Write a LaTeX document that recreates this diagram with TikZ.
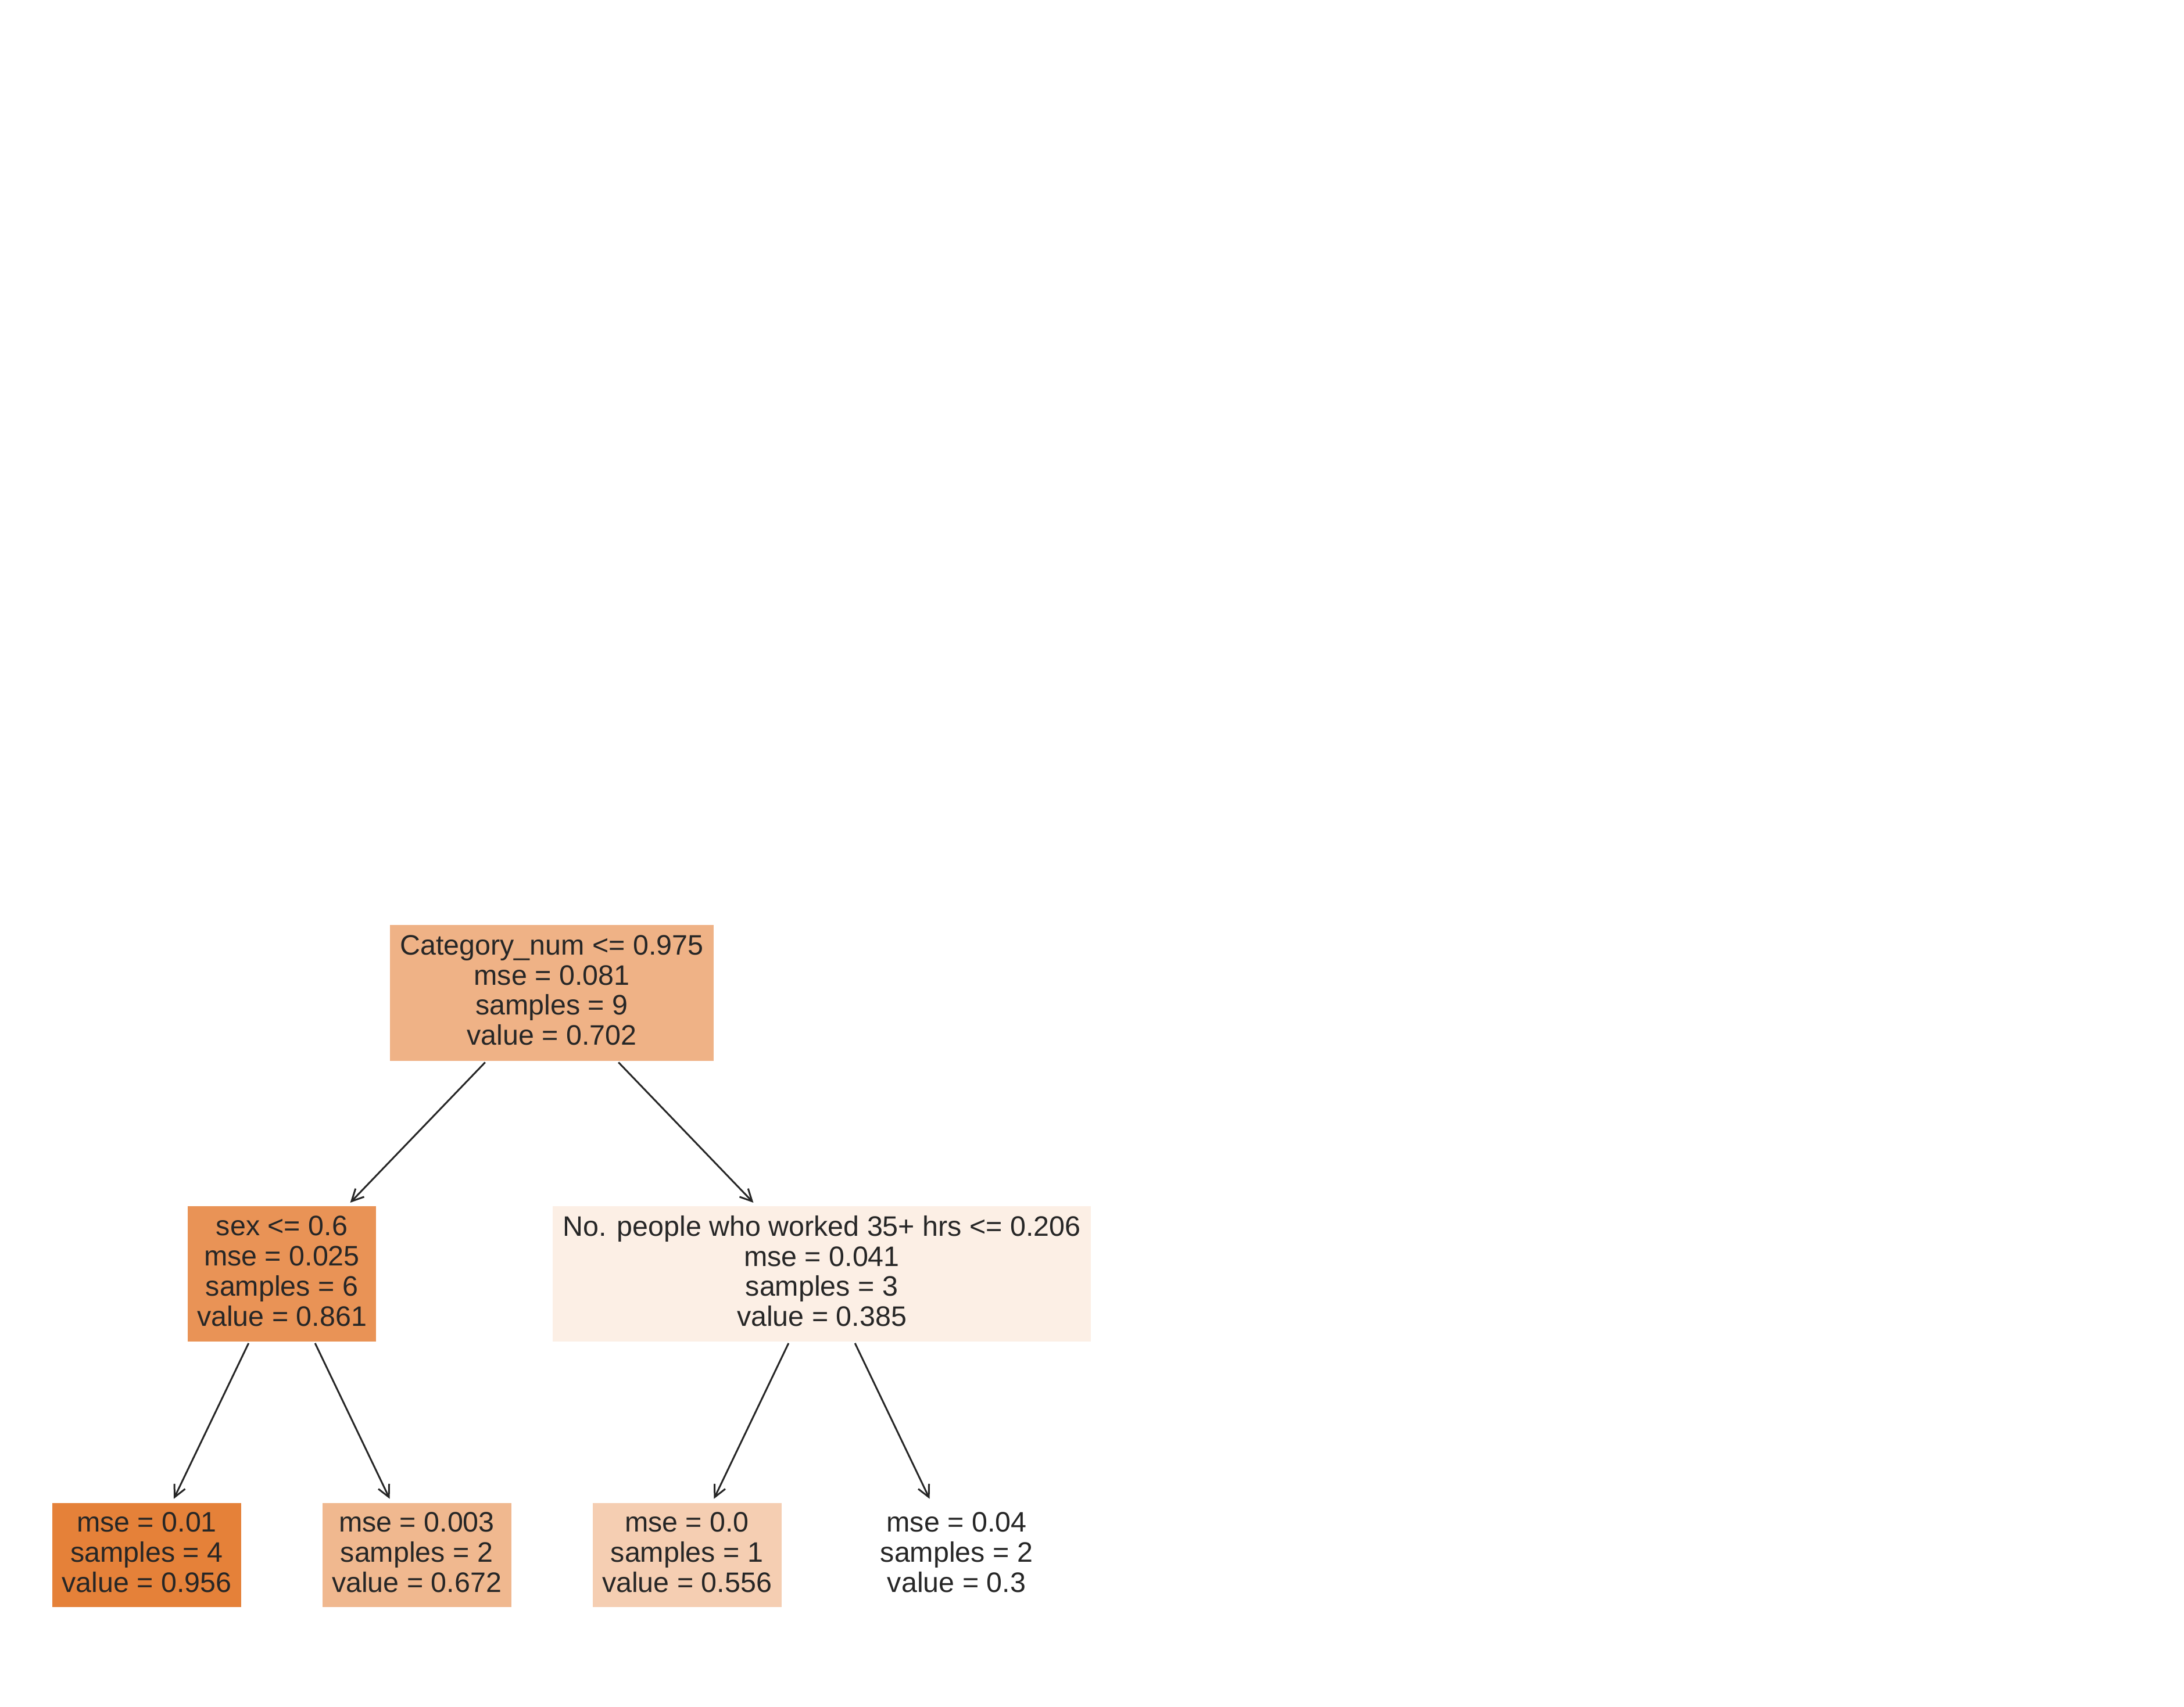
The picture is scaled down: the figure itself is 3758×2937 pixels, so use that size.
\documentclass[tikz,border=0pt]{standalone}
\usepackage{fontspec}
\setmainfont{Liberation Sans}
\usetikzlibrary{arrows.meta}

% fill colours of the regression tree nodes (shade grows with value)
\definecolor{txtgray}{RGB}{38,38,38}
\definecolor{rootfill}{RGB}{239,178,134}
\definecolor{sexfill}{RGB}{233,147,86}
\definecolor{hrsfill}{RGB}{252,239,229}
\definecolor{leafA}{RGB}{229,129,57}
\definecolor{leafB}{RGB}{240,184,143}
\definecolor{leafC}{RGB}{245,206,178}
\definecolor{leafD}{RGB}{255,255,255}

\begin{document}
\begin{tikzpicture}[x=0.2pt,y=-0.2pt,
  treebox/.style={inner sep=0pt, align=center, text=txtgray,
    font=\fontsize{9.68pt}{10.35pt}\selectfont,
    execute at end node={\rule[-2pt]{0pt}{2pt}}},
  splitbox/.style={treebox, minimum height=46.6pt},
  leafbox/.style={treebox, minimum height=35.8pt, minimum width=65pt},
  edge/.style={draw=txtgray, line width=0.6pt,
    -{Straight Barb[length=4.1pt, width=4.1pt, line width=0.6pt]},
    shorten >=1.4pt, shorten <=0.4pt}]

\useasboundingbox (0,0) rectangle (3758,2937);

% split nodes
\node[splitbox, fill=rootfill, minimum width=111.4pt, minimum height=46.8pt] (root) at (949.5,1709)
  {Category\_num <= 0.975\\mse = 0.081\\samples = 9\\value = 0.702};
\node[splitbox, fill=sexfill, minimum width=64.8pt] (sex) at (485,2192.5)
  {sex <= 0.6\\mse = 0.025\\samples = 6\\value = 0.861};
\node[splitbox, fill=hrsfill, minimum width=185.2pt] (hrs) at (1414,2192.5)
  {No. people who worked 35+ hrs <= 0.206\\mse = 0.041\\samples = 3\\value = 0.385};

% leaves
\node[leafbox, fill=leafA] (la) at (252.5,2676.5)
  {mse = 0.01\\samples = 4\\value = 0.956};
\node[leafbox, fill=leafB] (lb) at (717,2676.5)
  {mse = 0.003\\samples = 2\\value = 0.672};
\node[leafbox, fill=leafC] (lc) at (1182,2676.5)
  {mse = 0.0\\samples = 1\\value = 0.556};
\node[leafbox, fill=leafD, minimum width=58.8pt] (ld) at (1646,2676.5)
  {mse = 0.04\\samples = 2\\value = 0.3};

% connectors
\draw[edge] (root) -- (sex);
\draw[edge] (root) -- (hrs);
\draw[edge] (sex) -- (la);
\draw[edge] (sex) -- (lb);
\draw[edge] (hrs) -- (lc);
\draw[edge] (hrs) -- (ld);

\end{tikzpicture}
\end{document}
